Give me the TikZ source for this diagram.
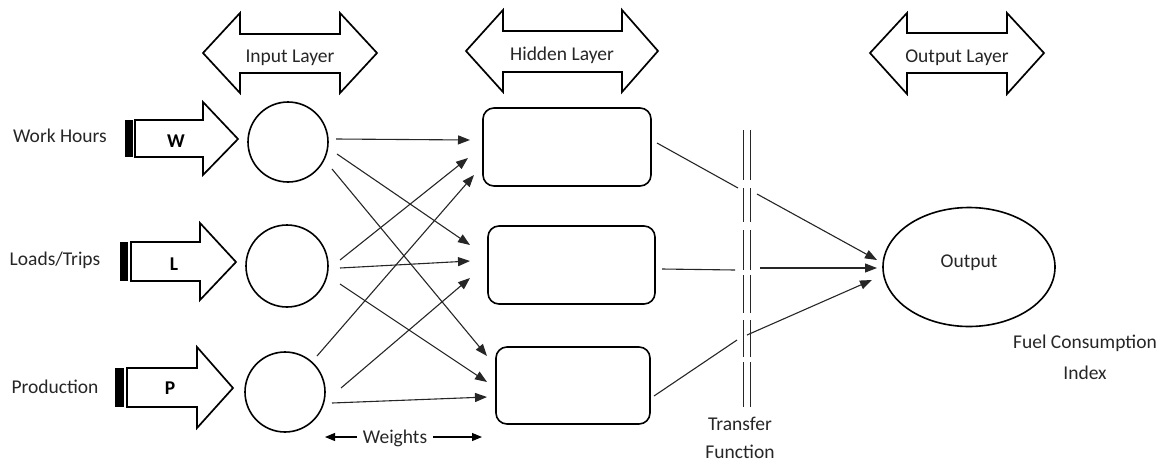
\documentclass[tikz,border=0pt]{standalone}
\usepackage{fontspec}
\setmainfont{Carlito}
\usetikzlibrary{arrows.meta,shapes.geometric}
\begin{document}
\begin{tikzpicture}[x=1pt,y=-1pt,
  outline/.style={draw=black, line width=1.7pt, line join=miter, fill=white},
  neuron/.style={draw=black, line width=1.6pt, circle, inner sep=0, minimum size=80pt},
  hbox/.style={draw=black, line width=1.6pt, rectangle, rounded corners=11pt, inner sep=0},
  conn/.style={draw=black!85, line width=1.1pt, -{Triangle[length=12pt,width=9pt]}},
  seg/.style={draw=black!85, line width=1.1pt},
  tf/.style={draw=black!85, line width=1pt},
  lbl/.style={font=\fontsize{19.5}{23}\selectfont, text=black!85, anchor=base, inner sep=0},
  blbl/.style={font=\fontsize{19.5}{23}\selectfont\bfseries, anchor=base, inner sep=0}]
\useasboundingbox (0,0) rectangle (1169,464);

% ---- top double arrows
\draw[outline] (203,53) -- (240,13) -- (240,34) -- (340,34) -- (340,13) -- (377,53) -- (340,93) -- (340,73) -- (240,73) -- (240,93) -- cycle;
\node[lbl] (inl) at (290,62) {Input Layer};
\draw[outline] (466,51) -- (503,10) -- (503,31) -- (622,31) -- (622,10) -- (658,51) -- (622,92) -- (622,72) -- (503,72) -- (503,92) -- cycle;
\node[lbl] (hil) at (562,60) {Hidden Layer};
\draw[outline] (870,53) -- (907,13) -- (907,33) -- (1007,33) -- (1007,13) -- (1044,53) -- (1007,94) -- (1007,73) -- (907,73) -- (907,94) -- cycle;
\node[lbl] (oul) at (957,62) {Output Layer};

% ---- striped input arrows
\fill[black] (125,120) rectangle (132.5,157);
\draw[outline] (135,120) -- (203,120) -- (203,102) -- (238,139) -- (203,175) -- (203,157) -- (135,157) -- cycle;
\node[blbl] (wl) at (176,147) {W};
\node[lbl] (wh) at (60,142) {Work Hours};

\fill[black] (120,242) rectangle (128,281);
\draw[outline] (131,242) -- (200,242) -- (200,223) -- (236,262) -- (200,300) -- (200,281) -- (131,281) -- cycle;
\node[blbl] (ll) at (174,270) {L};
\node[lbl] (lt) at (55,265) {Loads/Trips};

\fill[black] (115,368) rectangle (124,407);
\draw[outline] (127,368) -- (197,368) -- (197,347) -- (233,388) -- (197,428) -- (197,407) -- (127,407) -- cycle;
\node[blbl] (pl) at (170,394) {P};
\node[lbl] (pr) at (55,393) {Production};

% ---- input neurons
\node[neuron] (w) at (288,142) {};
\node[neuron, minimum size=82pt] (l) at (287,266) {};
\node[neuron] (p) at (285,392) {};

% ---- hidden boxes
\node[hbox, minimum width=168pt, minimum height=78pt] (h1) at (567,147) {};
\node[hbox, minimum width=167pt, minimum height=78pt] (h2) at (571.5,265) {};
\node[hbox, minimum width=154pt, minimum height=77pt] (h3) at (573,385.5) {};

% ---- output
\node[draw=black, line width=1.6pt, ellipse, inner sep=0, minimum width=172pt, minimum height=119pt] (out) at (969,267) {};
\node[lbl] (outt) at (969,267) {Output};
\node[lbl] (fc) at (1085,348) {Fuel Consumption};
\node[lbl] (idx) at (1085,379) {Index};

% ---- connector end points
\coordinate (w1) at (336,139); \coordinate (h1a) at (470,140);
\coordinate (w2) at (337,154); \coordinate (h2a) at (470,245);
\coordinate (w3) at (332,169); \coordinate (h3a) at (487,356);
\coordinate (l1) at (340,260); \coordinate (h1b) at (468,158);
\coordinate (l2) at (340,268); \coordinate (h2b) at (470,261);
\coordinate (l3) at (340,284); \coordinate (h3b) at (487,382);
\coordinate (p1) at (317,356); \coordinate (h1c) at (474,175);
\coordinate (p2) at (341,388); \coordinate (h2c) at (470,278);
\coordinate (p3) at (332,403); \coordinate (h3c) at (487,397);

\draw[conn] (w1) -- (h1a);
\draw[conn] (w2) -- (h2a);
\draw[conn] (w3) -- (h3a);
\draw[conn] (l1) -- (h1b);
\draw[conn] (l2) -- (h2b);
\draw[conn] (l3) -- (h3b);
\draw[conn] (p1) -- (h1c);
\draw[conn] (p2) -- (h2c);
\draw[conn] (p3) -- (h3c);

% ---- hidden to output, broken at the transfer function
\coordinate (o1s) at (657,143); \coordinate (o1g) at (738,188); \coordinate (o1r) at (757,194); \coordinate (o1e) at (877,260);
\coordinate (o2s) at (662,269); \coordinate (o2g) at (735,270); \coordinate (o2r) at (760,268); \coordinate (o2e) at (877,268);
\coordinate (o3s) at (654,396); \coordinate (o3g) at (737,340); \coordinate (o3r) at (747,335); \coordinate (o3e) at (872,280);
\draw[seg] (o1s) -- (o1g);
\draw[conn] (o1r) -- (o1e);
\draw[seg] (o2s) -- (o2g);
\draw[conn] (o2r) -- (o2e);
\draw[seg] (o3s) -- (o3g);
\draw[conn] (o3r) -- (o3e);

% ---- transfer function double line
\foreach \xx in {743,750}{
  \foreach \ya/\yb in {130/180,188/222,230/270,275/313,320/357,362/407}{
    \draw[tf] (\xx,\ya) -- (\xx,\yb);
  }
}
\node[lbl] (tr) at (740,430) {Transfer};
\node[lbl] (fn) at (740,458) {Function};

% ---- weights
\node[lbl] (wt) at (395,443) {Weights};
\coordinate (wtl) at (325,437);
\coordinate (wtr) at (482,437);
\draw[draw=black, line width=1.1pt, -{Triangle[length=10pt,width=8pt]}] ([xshift=-6pt]wt.west |- wtl) -- (wtl);
\draw[draw=black, line width=1.1pt, -{Triangle[length=10pt,width=8pt]}] ([xshift=6pt]wt.east |- wtr) -- (wtr);
\end{tikzpicture}
\end{document}
